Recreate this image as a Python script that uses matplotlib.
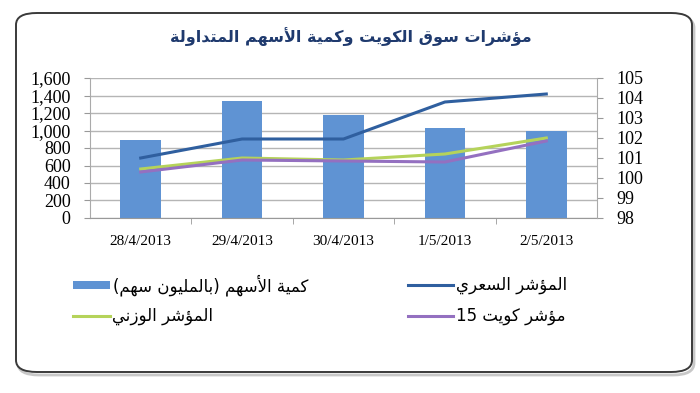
import matplotlib
matplotlib.use("Agg")
import matplotlib.pyplot as plt
from matplotlib.patches import FancyBboxPatch, Rectangle
from matplotlib.lines import Line2D
from matplotlib.ticker import FuncFormatter

# データ
dates = ['28/4/2013', '29/4/2013', '30/4/2013', '1/5/2013', '2/5/2013']
volume = [890, 1340, 1180, 1025, 995]            # كمية الأسهم (بالمليون سهم)
price_idx = [101.0, 101.95, 101.95, 103.8, 104.2]  # المؤشر السعري
weighted_idx = [100.45, 101.0, 100.9, 101.2, 102.0]  # المؤشر الوزني
kw15_idx = [100.3, 100.9, 100.85, 100.8, 101.85]   # مؤشر كويت 15

title_txt = 'مؤشرات سوق الكويت وكمية الأسهم المتداولة'
lbl_volume = 'كمية الأسهم (بالمليون سهم)'
lbl_price = 'المؤشر السعري'
lbl_weighted = 'المؤشر الوزني'
lbl_kw15 = 'مؤشر كويت 15'

# アラビア文字の簡易シェーピング（matplotlib は RTL/結合をしないため）
FORMS = {
    'ا': ('\uFE8D', '\uFE8E', None, None),
    'أ': ('\uFE83', '\uFE84', None, None),
    'ب': ('\uFE8F', '\uFE90', '\uFE91', '\uFE92'),
    'ة': ('\uFE93', '\uFE94', None, None),
    'ت': ('\uFE95', '\uFE96', '\uFE97', '\uFE98'),
    'ث': ('\uFE99', '\uFE9A', '\uFE9B', '\uFE9C'),
    'د': ('\uFEA9', '\uFEAA', None, None),
    'ر': ('\uFEAD', '\uFEAE', None, None),
    'ز': ('\uFEAF', '\uFEB0', None, None),
    'س': ('\uFEB1', '\uFEB2', '\uFEB3', '\uFEB4'),
    'ش': ('\uFEB5', '\uFEB6', '\uFEB7', '\uFEB8'),
    'ع': ('\uFEC9', '\uFECA', '\uFECB', '\uFECC'),
    'ق': ('\uFED5', '\uFED6', '\uFED7', '\uFED8'),
    'ك': ('\uFED9', '\uFEDA', '\uFEDB', '\uFEDC'),
    'ل': ('\uFEDD', '\uFEDE', '\uFEDF', '\uFEE0'),
    'م': ('\uFEE1', '\uFEE2', '\uFEE3', '\uFEE4'),
    'ن': ('\uFEE5', '\uFEE6', '\uFEE7', '\uFEE8'),
    'ه': ('\uFEE9', '\uFEEA', '\uFEEB', '\uFEEC'),
    'و': ('\uFEED', '\uFEEE', None, None),
    'ؤ': ('\uFE85', '\uFE86', None, None),
    'ي': ('\uFEF1', '\uFEF2', '\uFEF3', '\uFEF4'),
}
LAM_ALEF = {'ا': ('\uFEFB', '\uFEFC'), 'أ': ('\uFEF7', '\uFEF8')}


def ar(s):
    out = []
    i = 0
    n = len(s)
    while i < n:
        c = s[i]
        if c not in FORMS:
            out.append(c)
            i += 1
            continue
        prev = s[i - 1] if i > 0 else ''
        jp = prev in FORMS and FORMS[prev][2] is not None
        if c == 'ل' and i + 1 < n and s[i + 1] in LAM_ALEF:
            iso, fin = LAM_ALEF[s[i + 1]]
            out.append(fin if jp else iso)
            i += 2
            continue
        nxt = s[i + 1] if i + 1 < n else ''
        jn = FORMS[c][2] is not None and nxt in FORMS
        iso, fin, ini, med = FORMS[c]
        if jp and jn:
            out.append(med)
        elif jp:
            out.append(fin)
        elif jn:
            out.append(ini)
        else:
            out.append(iso)
        i += 1
    out = out[::-1]
    mirror = {'(': ')', ')': '('}
    out = [mirror.get(c, c) for c in out]
    res = []
    j = 0
    while j < len(out):
        if out[j].isdigit():
            k = j
            while k < len(out) and out[k].isdigit():
                k += 1
            res.extend(out[j:k][::-1])
            j = k
        else:
            res.append(out[j])
            j += 1
    return ''.join(res)


W, H = 700, 393
fig = plt.figure(figsize=(W / 100, H / 100), dpi=100)


def fx(x):
    return x / W


def fy(y):
    return 1 - y / H


# 外枠（影付き角丸）
shadow = FancyBboxPatch((fx(18), fy(375)), fx(694) - fx(18), fy(16) - fy(375),
                        boxstyle="round,pad=0,rounding_size=0.03", transform=fig.transFigure,
                        facecolor='none', edgecolor='#c8c8c8', linewidth=2.0, zorder=-2)
fig.add_artist(shadow)
frame = FancyBboxPatch((fx(16), fy(372)), fx(692) - fx(16), fy(13) - fy(372),
                       boxstyle="round,pad=0,rounding_size=0.03", transform=fig.transFigure,
                       facecolor='white', edgecolor='#3a3a3a', linewidth=1.4, zorder=-1)
fig.add_artist(frame)

fig.text(fx(351), fy(37), ar(title_txt), ha='center', va='center', fontsize=11.5,
         fontweight='bold', color='#1f3a6e', family='DejaVu Sans')

# グラフ本体
ax = fig.add_axes([fx(90), fy(218), fx(597) - fx(90), fy(78) - fy(218)])
ax.set_facecolor('none')
x = list(range(len(dates)))
bar_color = '#5f93d3'
ax.bar(x, volume, width=0.4, color=bar_color, zorder=2)
ax.set_xlim(-0.5, len(dates) - 0.5)
ax.set_ylim(0, 1600)
ax.set_yticks(range(0, 1601, 200))
ax.yaxis.set_major_formatter(FuncFormatter(lambda v, p: f'{int(v):,}'))
ax.grid(axis='y', color='#b5b5b5', linewidth=1.0)
ax.set_axisbelow(True)
ax.set_xticks(x)
ax.set_xticklabels(dates)
ax.set_xticks([i + 0.5 for i in x[:-1]], minor=True)
ax.tick_params(axis='x', which='major', length=0, pad=12, labelsize=11)
ax.tick_params(axis='x', which='minor', length=4, color='#999999', direction='out')
ax.tick_params(axis='y', length=4, color='#999999', pad=10, labelsize=13)
for lab in ax.get_xticklabels() + ax.get_yticklabels():
    lab.set_family('Liberation Serif')
for s in ['top', 'right']:
    ax.spines[s].set_visible(False)
ax.spines['left'].set_color('#aaaaaa')
ax.spines['bottom'].set_color('#999999')

ax2 = ax.twinx()
ax2.set_ylim(98, 105)
ax2.set_yticks(range(98, 106))
blue = '#2f5f9f'
green = '#b5d35a'
purple = '#9470c0'
ax2.plot(x, price_idx, color=blue, linewidth=2.2)
ax2.plot(x, weighted_idx, color=green, linewidth=2.2)
ax2.plot(x, kw15_idx, color=purple, linewidth=2.2)
ax2.tick_params(axis='y', length=4, color='#999999', pad=10, labelsize=13)
for lab in ax2.get_yticklabels():
    lab.set_family('Liberation Serif')
for s in ['top', 'left', 'bottom']:
    ax2.spines[s].set_visible(False)
ax2.spines['right'].set_color('#aaaaaa')

# 凡例（手描き）
r1, r2 = 285, 316
fig.add_artist(Rectangle((fx(73), fy(r1 + 4)), fx(110) - fx(73), fy(r1 - 4) - fy(r1 + 4),
                         transform=fig.transFigure, facecolor=bar_color, edgecolor='none'))
fig.text(fx(113), fy(r1), ar(lbl_volume), ha='left', va='center', fontsize=12, family='DejaVu Sans')
fig.add_artist(Line2D([fx(73), fx(110)], [fy(r2), fy(r2)], transform=fig.transFigure,
                      color=green, linewidth=2.2))
fig.text(fx(112), fy(r2), ar(lbl_weighted), ha='left', va='center', fontsize=12, family='DejaVu Sans')
fig.add_artist(Line2D([fx(408), fx(453)], [fy(r1), fy(r1)], transform=fig.transFigure,
                      color=blue, linewidth=2.2))
fig.text(fx(456), fy(r1), ar(lbl_price), ha='left', va='center', fontsize=12, family='DejaVu Sans')
fig.add_artist(Line2D([fx(408), fx(453)], [fy(r2), fy(r2)], transform=fig.transFigure,
                      color=purple, linewidth=2.2))
fig.text(fx(456), fy(r2), ar(lbl_kw15), ha='left', va='center', fontsize=12, family='DejaVu Sans')

fig.savefig('out.png', dpi=100)
